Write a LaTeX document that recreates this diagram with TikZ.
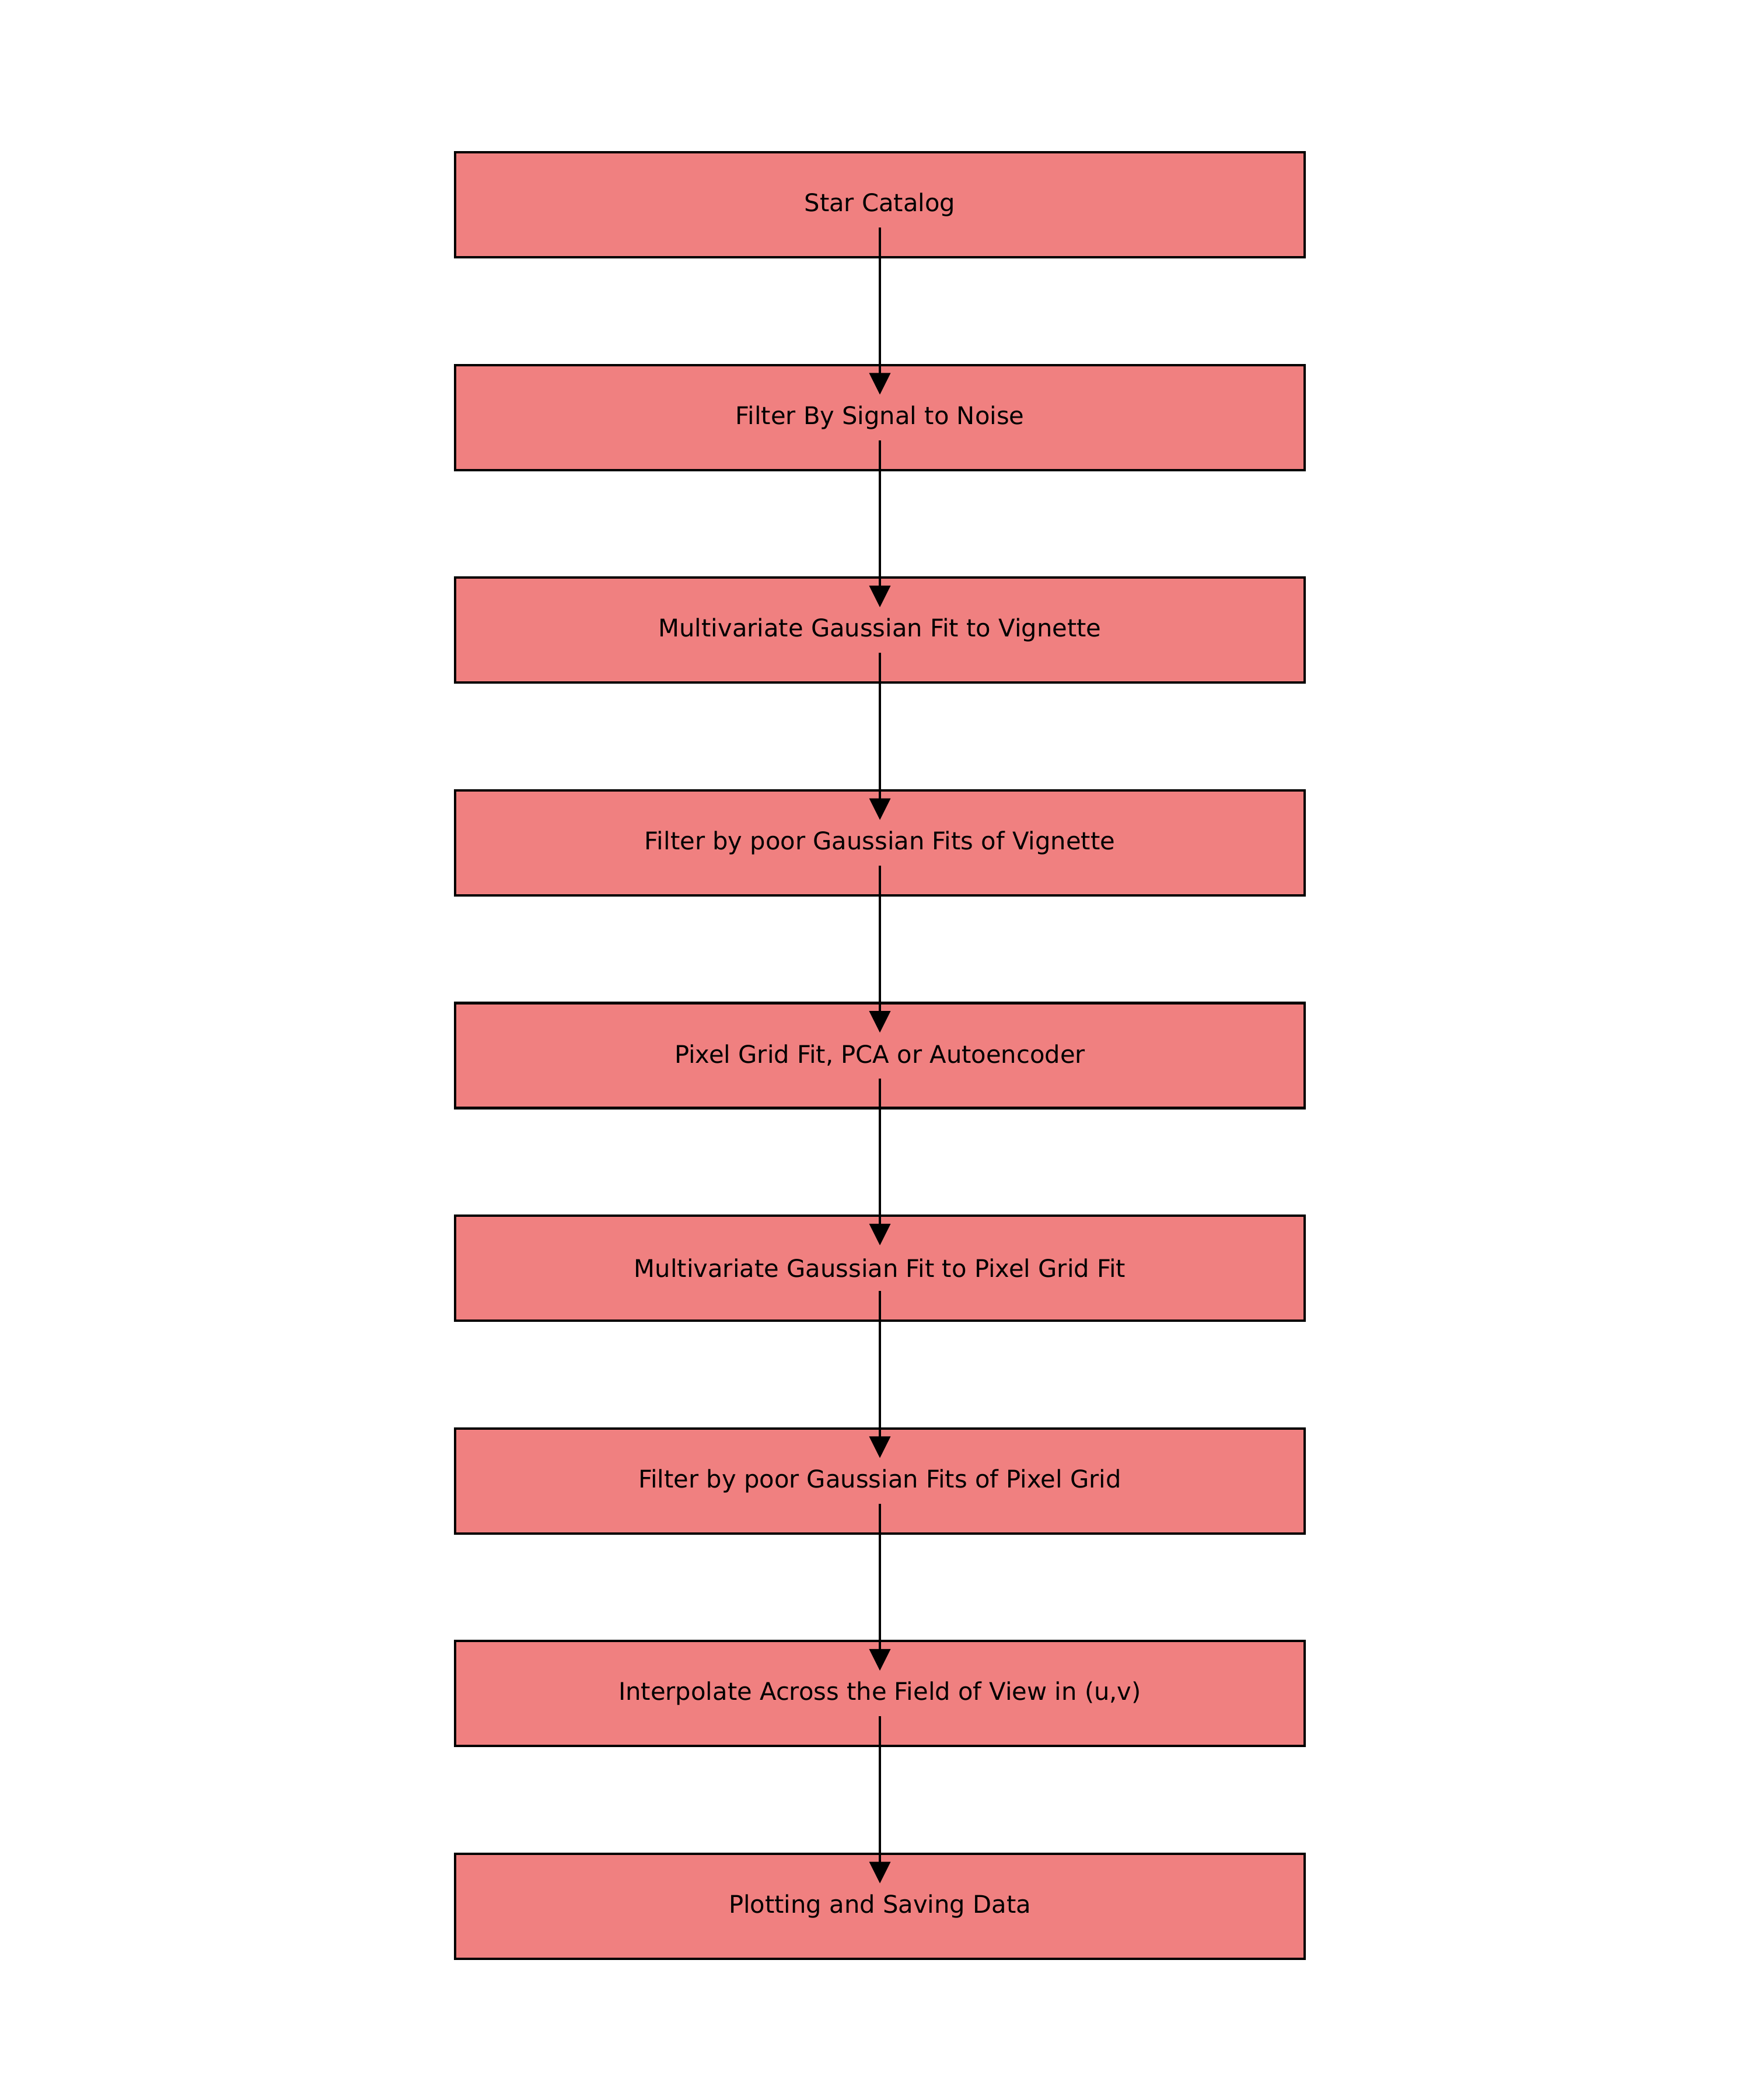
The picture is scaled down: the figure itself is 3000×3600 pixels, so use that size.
\documentclass[tikz,border=0pt]{standalone}
\usepackage{fontspec}
\setmainfont{DejaVu Sans}
\usetikzlibrary{arrows.meta}
\definecolor{coral}{RGB}{240,128,128}
\begin{document}
\begin{tikzpicture}[x=0.24pt,y=-0.24pt,
  stepbox/.style={draw=black,line width=1pt,fill=coral,rectangle,inner sep=0pt,
    minimum width=349.4pt,minimum height=43.2pt,font=\fontsize{10}{12}\selectfont},
  flow/.style={line width=1pt,-{Triangle[length=8.9pt,width=8.6pt]}}]
\useasboundingbox (0,0) rectangle (3000,3600);
\node[stepbox] (n1) at (1508,351.0) {Star Catalog};
\node[stepbox] (n2) at (1508,715.6) {Filter By Signal to Noise};
\node[stepbox] (n3) at (1508,1080.2) {Multivariate Gaussian Fit to Vignette};
\node[stepbox] (n4) at (1508,1444.8) {Filter by poor Gaussian Fits of Vignette};
\node[stepbox] (n5) at (1508,1809.4) {Pixel Grid Fit, PCA or Autoencoder};
\node[stepbox] (n6) at (1508,2174.0) {Multivariate Gaussian Fit to Pixel Grid Fit};
\node[stepbox] (n7) at (1508,2538.6) {Filter by poor Gaussian Fits of Pixel Grid};
\node[stepbox] (n8) at (1508,2903.2) {Interpolate Across the Field of View in (u,v)};
\node[stepbox] (n9) at (1508,3267.8) {Plotting and Saving Data};
\foreach \a/\b in {n1/n2,n2/n3,n3/n4,n4/n5,n5/n6,n6/n7,n7/n8,n8/n9}
  \draw[flow] ([yshift=-9.4pt]\a.center) -- ([yshift=9.4pt]\b.center);
\end{tikzpicture}
\end{document}
